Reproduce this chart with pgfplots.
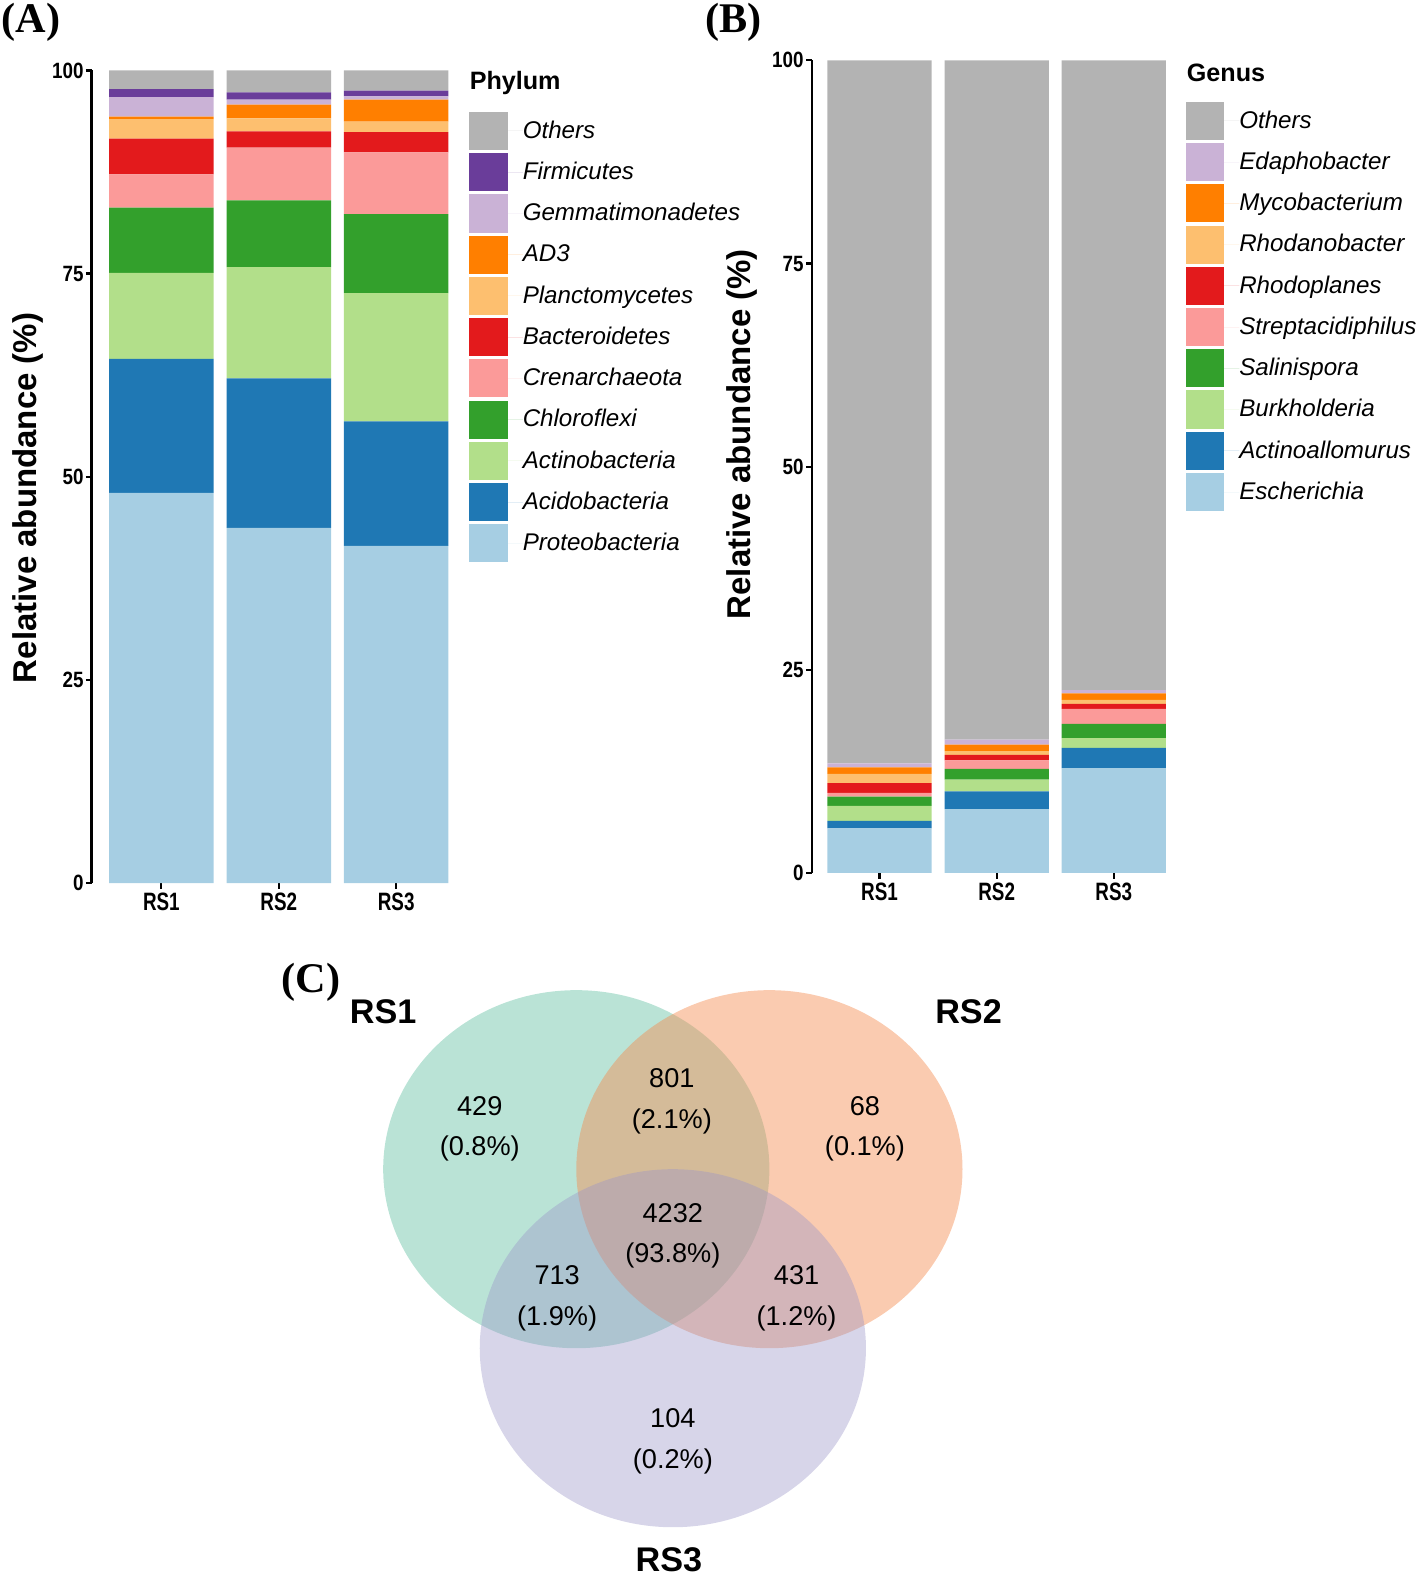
\documentclass[border=0pt]{standalone}
\usepackage{pgfplots}
\pgfplotsset{compat=1.18}
\usepackage{graphicx}
\usepackage{fontspec}
\setmainfont{Liberation Sans}
\newfontfamily\serifbf{Liberation Serif}
\definecolor{cProt}{HTML}{A6CEE3}
\definecolor{cAcid}{HTML}{1F78B4}
\definecolor{cActi}{HTML}{B2DF8A}
\definecolor{cChlo}{HTML}{33A02C}
\definecolor{cCren}{HTML}{FB9A99}
\definecolor{cBact}{HTML}{E31A1C}
\definecolor{cPlan}{HTML}{FDBF6F}
\definecolor{cAD}{HTML}{FF7F00}
\definecolor{cGemm}{HTML}{CAB2D6}
\definecolor{cFirm}{HTML}{6A3D9A}
\definecolor{cOth}{HTML}{B3B3B3}
\definecolor{vA}{HTML}{66C2A5}
\definecolor{vB}{HTML}{F58B4F}
\definecolor{vC}{HTML}{9A95C8}
\newcommand{\nary}[1]{\scalebox{0.85}[1]{#1}}
\newcommand{\narx}[1]{\scalebox{0.75}[1]{#1}}
\pgfplotsset{
  stackstyle/.style={
    scale only axis,
    ybar stacked, bar width=0.89,
    ymin=0, ymax=100, enlargelimits=false,
    axis lines=left, axis line style={-, line width=1.1pt},
    x axis line style={draw=none},
    tick align=outside, major tick length=2.8pt,
    tick style={black, line width=1.1pt},
    xtick={1,2,3}, xticklabels={\narx{RS1},\narx{RS2},\narx{RS3}},
    ytick={0,25,50,75,100}, yticklabels={\nary{0},\nary{25},\nary{50},\nary{75},\nary{100}},
    xtick pos=left, ytick pos=left,
    xticklabel style={font=\bfseries\fontsize{12.5}{14}\selectfont, inner sep=1pt, yshift=-1pt},
    yticklabel style={font=\bfseries\fontsize{11}{13}\selectfont, inner sep=1pt},
    ylabel={Relative abundance (\%)},
    ylabel style={font=\bfseries\fontsize{16.4}{18}\selectfont, anchor=center},
    reverse legend,
    legend image code/.code={\fill[##1] (0pt,-9.5pt) rectangle (19pt,9.5pt); \path (0pt,0pt) -- (26.5pt,0pt);},
    legend cell align=left,
    legend style={draw=none, fill=none, inner sep=0pt, row sep=1.5pt,
      font=\itshape\fontsize{12}{14}\selectfont, anchor=north west,
      nodes={inner sep=0pt, anchor=west}},
  }
}
\begin{document}
\begin{tikzpicture}
% Panel A
\begin{axis}[stackstyle,
  width=186.2pt, height=404pt,
  at={(91*0.5pt,-878*0.5pt)}, anchor=south west,
  xmin=0.405, xmax=3.595,
  ylabel style={at={(axis description cs:-0.169,0.474)}},
  legend style={at={(axis description cs:1.008,0.9495)}},
]
\addplot+[fill=cProt, draw=none] coordinates {(1,48.0) (2,43.7) (3,41.5)};
\addlegendentry{Proteobacteria}
\addplot+[fill=cAcid, draw=none] coordinates {(1,16.5) (2,18.4) (3,15.3)};
\addlegendentry{Acidobacteria}
\addplot+[fill=cActi, draw=none] coordinates {(1,10.6) (2,13.7) (3,15.8)};
\addlegendentry{Actinobacteria}
\addplot+[fill=cChlo, draw=none] coordinates {(1,8.0) (2,8.2) (3,9.7)};
\addlegendentry{Chloroflexi}
\addplot+[fill=cCren, draw=none] coordinates {(1,4.1) (2,6.5) (3,7.6)};
\addlegendentry{Crenarchaeota}
\addplot+[fill=cBact, draw=none] coordinates {(1,4.4) (2,2.0) (3,2.5)};
\addlegendentry{Bacteroidetes}
\addplot+[fill=cPlan, draw=none] coordinates {(1,2.4) (2,1.6) (3,1.3)};
\addlegendentry{Planctomycetes}
\addplot+[fill=cAD, draw=none] coordinates {(1,0.3) (2,1.7) (3,2.7)};
\addlegendentry{AD3}
\addplot+[fill=cGemm, draw=none] coordinates {(1,2.4) (2,0.6) (3,0.4)};
\addlegendentry{Gemmatimonadetes}
\addplot+[fill=cFirm, draw=none] coordinates {(1,1.0) (2,0.9) (3,0.7)};
\addlegendentry{Firmicutes}
\addplot+[fill=cOth, draw=none] coordinates {(1,2.3) (2,2.7) (3,2.5)};
\addlegendentry{Others}
\end{axis}
% Panel B
\begin{axis}[stackstyle,
  width=184pt, height=404pt,
  at={(807*0.5pt,-868*0.5pt)}, anchor=south west,
  xmin=0.42, xmax=3.58,
  ylabel style={at={(axis description cs:-0.1875,0.54)}},
  legend style={at={(axis description cs:1.0104,0.9495)}},
]
\addplot+[fill=cProt, draw=none] coordinates {(1,5.5) (2,7.85) (3,12.9)};
\addlegendentry{Escherichia}
\addplot+[fill=cAcid, draw=none] coordinates {(1,0.9) (2,2.2) (3,2.5)};
\addlegendentry{Actinoallomurus}
\addplot+[fill=cActi, draw=none] coordinates {(1,1.85) (2,1.45) (3,1.2)};
\addlegendentry{Burkholderia}
\addplot+[fill=cChlo, draw=none] coordinates {(1,1.15) (2,1.3) (3,1.75)};
\addlegendentry{Salinispora}
\addplot+[fill=cCren, draw=none] coordinates {(1,0.45) (2,1.05) (3,1.85)};
\addlegendentry{Streptacidiphilus}
\addplot+[fill=cBact, draw=none] coordinates {(1,1.2) (2,0.7) (3,0.6)};
\addlegendentry{Rhodoplanes}
\addplot+[fill=cPlan, draw=none] coordinates {(1,1.15) (2,0.45) (3,0.5)};
\addlegendentry{Rhodanobacter}
\addplot+[fill=cAD, draw=none] coordinates {(1,0.8) (2,0.8) (3,0.8)};
\addlegendentry{Mycobacterium}
\addplot+[fill=cGemm, draw=none] coordinates {(1,0.5) (2,0.6) (3,0.4)};
\addlegendentry{Edaphobacter}
\addplot+[fill=cOth, draw=none] coordinates {(1,86.5) (2,83.6) (3,77.5)};
\addlegendentry{Others}
\end{axis}
% Panel C (Venn)
\begin{axis}[scale only axis, hide axis, clip=false,
  width=350pt, height=314pt,
  at={(300*0.5pt,-1568*0.5pt)}, anchor=south west,
  xmin=300, xmax=1000, ymin=-1568, ymax=-940]
\fill[vA, opacity=0.45] (axis cs:573,-1162.5) ellipse[x radius=96pt, y radius=89pt];
\fill[vB, opacity=0.45] (axis cs:765,-1162.5) ellipse[x radius=96pt, y radius=89pt];
\fill[vC, opacity=0.4] (axis cs:669,-1340.5) ellipse[x radius=96pt, y radius=89pt];
\end{axis}
\begin{scope}[x=0.5pt, y=-0.5pt]
\path (0,0) rectangle (1408,1568);
\begin{scope}[font=\serifbf\bfseries\fontsize{21}{24}\selectfont, inner sep=0pt]
\node at (31,22) {(A)};
\node at (729,22) {(B)};
\node at (309,977) {(C)};
\end{scope}
\node[anchor=west, font=\bfseries\fontsize{12.5}{14}\selectfont] at (460,83) {Phylum};
\node[anchor=west, font=\bfseries\fontsize{12.5}{14}\selectfont] at (1173,72) {Genus};
\begin{scope}[font=\bfseries\fontsize{17}{19}\selectfont, inner sep=0pt]
\node at (381,1006) {RS1};
\node at (963,1006) {RS2};
\node at (665,1551) {RS3};
\end{scope}
\begin{scope}[font=\fontsize{13.5}{16}\selectfont, align=center]
\node at (477,1122) {429\\[4pt](0.8\%)};
\node at (668,1095) {801\\[4pt](2.1\%)};
\node at (860,1122) {68\\[4pt](0.1\%)};
\node at (669,1229) {4232\\[4pt](93.8\%)};
\node at (554,1291) {713\\[4pt](1.9\%)};
\node at (792,1291) {431\\[4pt](1.2\%)};
\node at (669,1433) {104\\[4pt](0.2\%)};
\end{scope}
\end{scope}
\end{tikzpicture}
\end{document}
